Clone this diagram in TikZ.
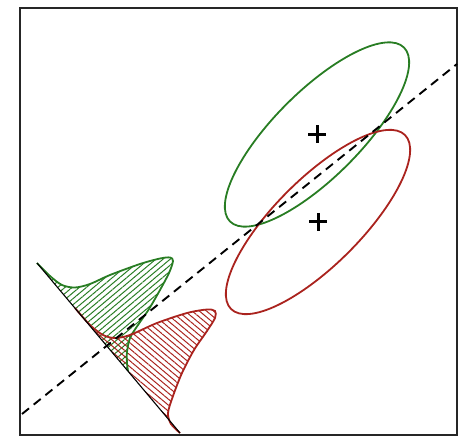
\documentclass[tikz,border=0pt]{standalone}
\usepackage{xcolor}
\usetikzlibrary{patterns.meta}
\definecolor{ldagreen}{RGB}{40,125,35}
\definecolor{ldared}{RGB}{170,35,30}

\begin{document}
\begin{tikzpicture}[x=1pt,y=-1pt,
  frame/.style={draw=black!85,line width=1.4pt},
  boundary/.style={dash pattern=on 9pt off 6pt,line width=1.9pt},
  gclass/.style={draw=ldagreen,line width=1.8pt},
  rclass/.style={draw=ldared,line width=1.8pt},
  meanmark/.style={line width=3pt},
  ghatch/.style={pattern={Lines[angle=40,distance=4.6pt,line width=1pt]},pattern color=ldagreen},
  rhatch/.style={pattern={Lines[angle=-40,distance=4.6pt,line width=1pt]},pattern color=ldared},
  projaxis/.style={line width=1.1pt}
]
\useasboundingbox (0,0) rectangle (460,438);
\draw[frame] (20,8) rectangle (457,435);

\def\ra{123}
\def\rb{43}
\coordinate (gc) at (317,134.5);
\coordinate (rc) at (318,222);
\coordinate (db) at (22,414);
\coordinate (dt) at (457,64);
\coordinate (a0) at (37,263);
\coordinate (a1) at (180,433);

% class ellipses and means
\draw[gclass] (gc) ellipse [x radius=\ra, y radius=\rb, rotate=45];
\draw[rclass] (rc) ellipse [x radius=\ra, y radius=\rb, rotate=45];
\foreach \c in {gc,rc}
  \draw[meanmark] (\c) ++(-9,0) -- ++(18,0) (\c) ++(0,-9) -- ++(0,18);

% projected densities
\def\gdens{(37,263) (50,276) (62,285) (75,287.5) (90,284) (110,275) (140,264)
  (160,258.5) (170,257.5) (173,261) (169,273) (160,290) (149,309) (138,325)
  (130,338) (127,352) (127,363) (128,371)}
\def\rdens{(75,308) (90,325) (103,335) (115,338) (130,335) (157,323) (187,313)
  (207,309.5) (215,311) (215,318) (207,331) (194,350) (182,373) (173,396)
  (168,413) (171,424) (180,433)}
\path[ghatch] plot[smooth] coordinates {\gdens} -- cycle;
\path[rhatch] plot[smooth] coordinates {\rdens} -- cycle;
\draw[gclass] plot[smooth] coordinates {\gdens};
\draw[rclass] plot[smooth] coordinates {\rdens};
\draw[projaxis] (a0) -- (a1);

\draw[boundary] (db) -- (dt);
\end{tikzpicture}
\end{document}
